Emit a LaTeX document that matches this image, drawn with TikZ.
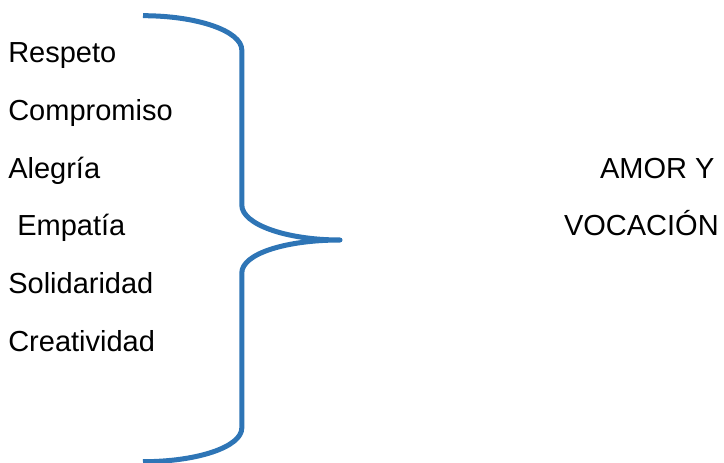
\documentclass[tikz,border=0pt]{standalone}
\usepackage{fontspec}
\setmainfont{Liberation Sans}
\definecolor{bracecol}{RGB}{46,117,182}
\begin{document}
\begin{tikzpicture}[x=1pt,y=-1pt,
  lbl/.style={anchor=base west,inner sep=0pt,outer sep=0pt,font=\fontsize{29}{34}\selectfont},
  bracepath/.style={draw=bracecol,line width=5pt,line cap=butt,line join=round}]
\useasboundingbox (0,0) rectangle (724,463);
\node[lbl] (respeto) at (8.3,62.7) {Respeto};
\node[lbl] (compromiso) at (8.3,120.7) {Compromiso};
\node[lbl] (alegria) at (8.3,178.3) {Alegría};
\node[lbl] (empatia) at (17.3,235.5) {Empatía};
\node[lbl] (solidaridad) at (8.3,293.3) {Solidaridad};
\node[lbl] (creatividad) at (8.3,351) {Creatividad};
\node[lbl] (amor) at (600,178.3) {AMOR Y};
\node[lbl] (vocacion) at (564,235.5) {VOCACIÓN};
\coordinate (btop) at (143,15.7);
\coordinate (tip) at (340,240);
\coordinate (bbot) at (143,461.7);
\path[bracepath] (btop) .. controls (197.7,15.7) and (241.8,31.2) .. (241.8,50)
  -- (241.8,205) .. controls (241.8,224.3) and (286,240) .. (tip)
  .. controls (286,240) and (241.8,253.7) .. (241.8,273)
  -- (241.8,428) .. controls (241.8,446.8) and (197.7,461.7) .. (bbot);
\end{tikzpicture}
\end{document}
